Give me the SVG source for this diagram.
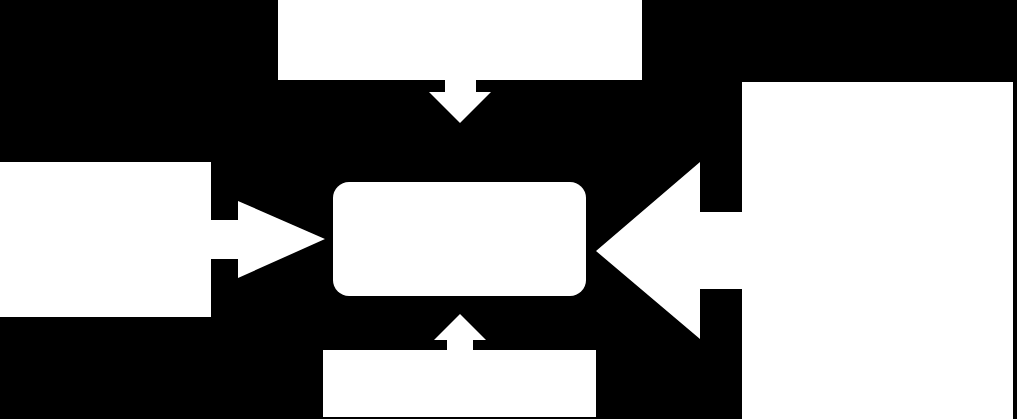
<svg xmlns="http://www.w3.org/2000/svg" width="1017" height="419" viewBox="0 0 1017 419">
<style>
.node{fill:#ffffff;stroke:none}
.arrow{fill:#ffffff;stroke:none}
</style>
<rect x="0" y="0" width="1017" height="419" fill="#000000"/>
<g id="node-top"><rect class="node" x="278" y="0" width="364" height="80"/></g>
<g id="node-left"><rect class="node" x="0" y="162" width="211" height="155"/></g>
<g id="node-center"><rect class="node" x="333" y="182" width="253" height="114" rx="16" ry="16"/></g>
<g id="node-right"><rect class="node" x="742" y="82" width="271" height="337"/></g>
<g id="node-bottom"><rect class="node" x="323" y="350" width="273" height="67"/></g>
<g id="connectors">
<polygon class="arrow" points="445,80 476,80 476,92 491,92 460,123 429,92 445,92"/>
<polygon class="arrow" points="211,220 238,220 238,201 325,239 238,278 238,259 211,259"/>
<polygon class="arrow" points="742,212 700,212 700,162 596,251 700,339 700,289 742,289"/>
<polygon class="arrow" points="447,350 473,350 473,340 486,340 460,314 434,340 447,340"/>
</g>
</svg>
